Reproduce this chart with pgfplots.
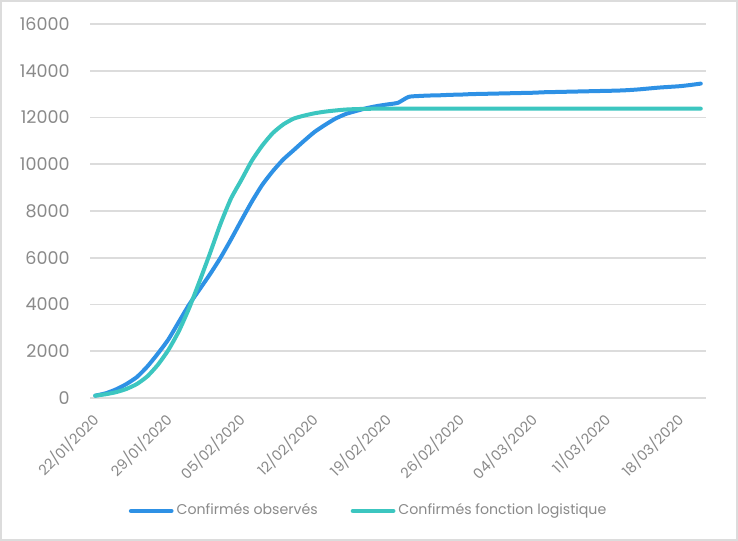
\documentclass[border=0pt]{standalone}
\usepackage{pgfplots}
\pgfplotsset{compat=1.18}
\usepackage{fontspec}
\setmainfont{Poppins}

\definecolor{obsblue}{HTML}{2E91E5}
\definecolor{logteal}{HTML}{3CC6C0}
\definecolor{gridgray}{HTML}{DCDCDC}
\definecolor{textgray}{HTML}{8A8A8A}

% day index 0 = 22/01/2020
\pgfplotstableread{
day obs
0 100
1 200
2 370
3 600
4 900
5 1350
6 1900
7 2500
8 3250
9 4000
10 4650
11 5300
12 6000
13 6780
14 7600
15 8400
16 9120
17 9700
18 10200
19 10600
20 11000
21 11380
22 11680
23 11950
24 12150
25 12280
26 12400
27 12490
28 12560
29 12630
30 12880
31 12920
32 12940
33 12950
34 12970
35 12980
36 13000
37 13010
38 13020
39 13030
40 13040
41 13050
42 13060
43 13080
44 13090
45 13100
46 13110
47 13120
48 13130
49 13140
50 13150
51 13170
52 13200
53 13240
54 13280
55 13310
56 13340
57 13390
58 13450
}\observed

\pgfplotstableread{
day fit
0 100
1 160
2 250
3 390
4 600
5 930
6 1420
7 2050
8 2850
9 3850
10 5000
11 6200
12 7450
13 8530
14 9330
15 10150
16 10800
17 11330
18 11700
19 11950
20 12080
21 12180
22 12250
23 12300
24 12340
25 12360
26 12370
27 12380
28 12380
30 12380
35 12380
40 12380
45 12380
50 12380
55 12380
58 12380
}\logistic

\begin{document}
\begin{tikzpicture}
\useasboundingbox (0,0) rectangle (369bp,270.5bp);
\fill[white] (0,0) rectangle (369bp,270.5bp);
\draw[gridgray, line width=1.2bp] (0.6bp,0.6bp) rectangle (368.4bp,269.9bp);
\begin{axis}[
    at={(45bp,71.5bp)}, anchor=south west,
    scale only axis, width=308bp, height=187bp,
    xmin=-0.5, xmax=58.5,
    ymin=0, ymax=16000,
    clip=false,
    axis line style={draw=none},
    major tick length=0pt,
    xtick={0,7,...,56},
    xticklabels={22/01/2020,29/01/2020,05/02/2020,12/02/2020,19/02/2020,26/02/2020,04/03/2020,11/03/2020,18/03/2020},
    ytick={0,2000,...,16000},
    scaled y ticks=false,
    /pgf/number format/assume math mode=true,
    /pgf/number format/1000 sep={},
    ymajorgrids=true,
    grid style={gridgray, line width=0.8bp},
    y tick label style={font=\fontsize{8.8}{10}\selectfont, text=textgray, inner sep=0pt, xshift=-10bp},
    x tick label style={font=\fontsize{7.2}{9}\selectfont, text=textgray, inner sep=0pt, yshift=-9.5bp, xshift=0.5bp, rotate=45, anchor=east},
    legend style={draw=none, fill=none, at={(0.453,-0.302)}, anchor=center,
        font=\fontsize{7.1}{9}\selectfont, text=textgray,
        nodes={inner xsep=1.5bp},
        /tikz/column 2/.style={column sep=15bp}},
    legend columns=2,
    legend image code/.code={\draw[#1, line width=2.4bp, line cap=round] (0bp,0bp) -- (20bp,0bp);},
]
\addplot[obsblue, line width=2bp, line join=round, line cap=round, smooth, tension=0.35] table[x=day, y=obs] {\observed};
\addlegendentry{Confirmés observés}
\addplot[logteal, line width=2bp, line join=round, line cap=round, smooth, tension=0.35] table[x=day, y=fit] {\logistic};
\addlegendentry{Confirmés fonction logistique}
\end{axis}
\end{tikzpicture}
\end{document}
